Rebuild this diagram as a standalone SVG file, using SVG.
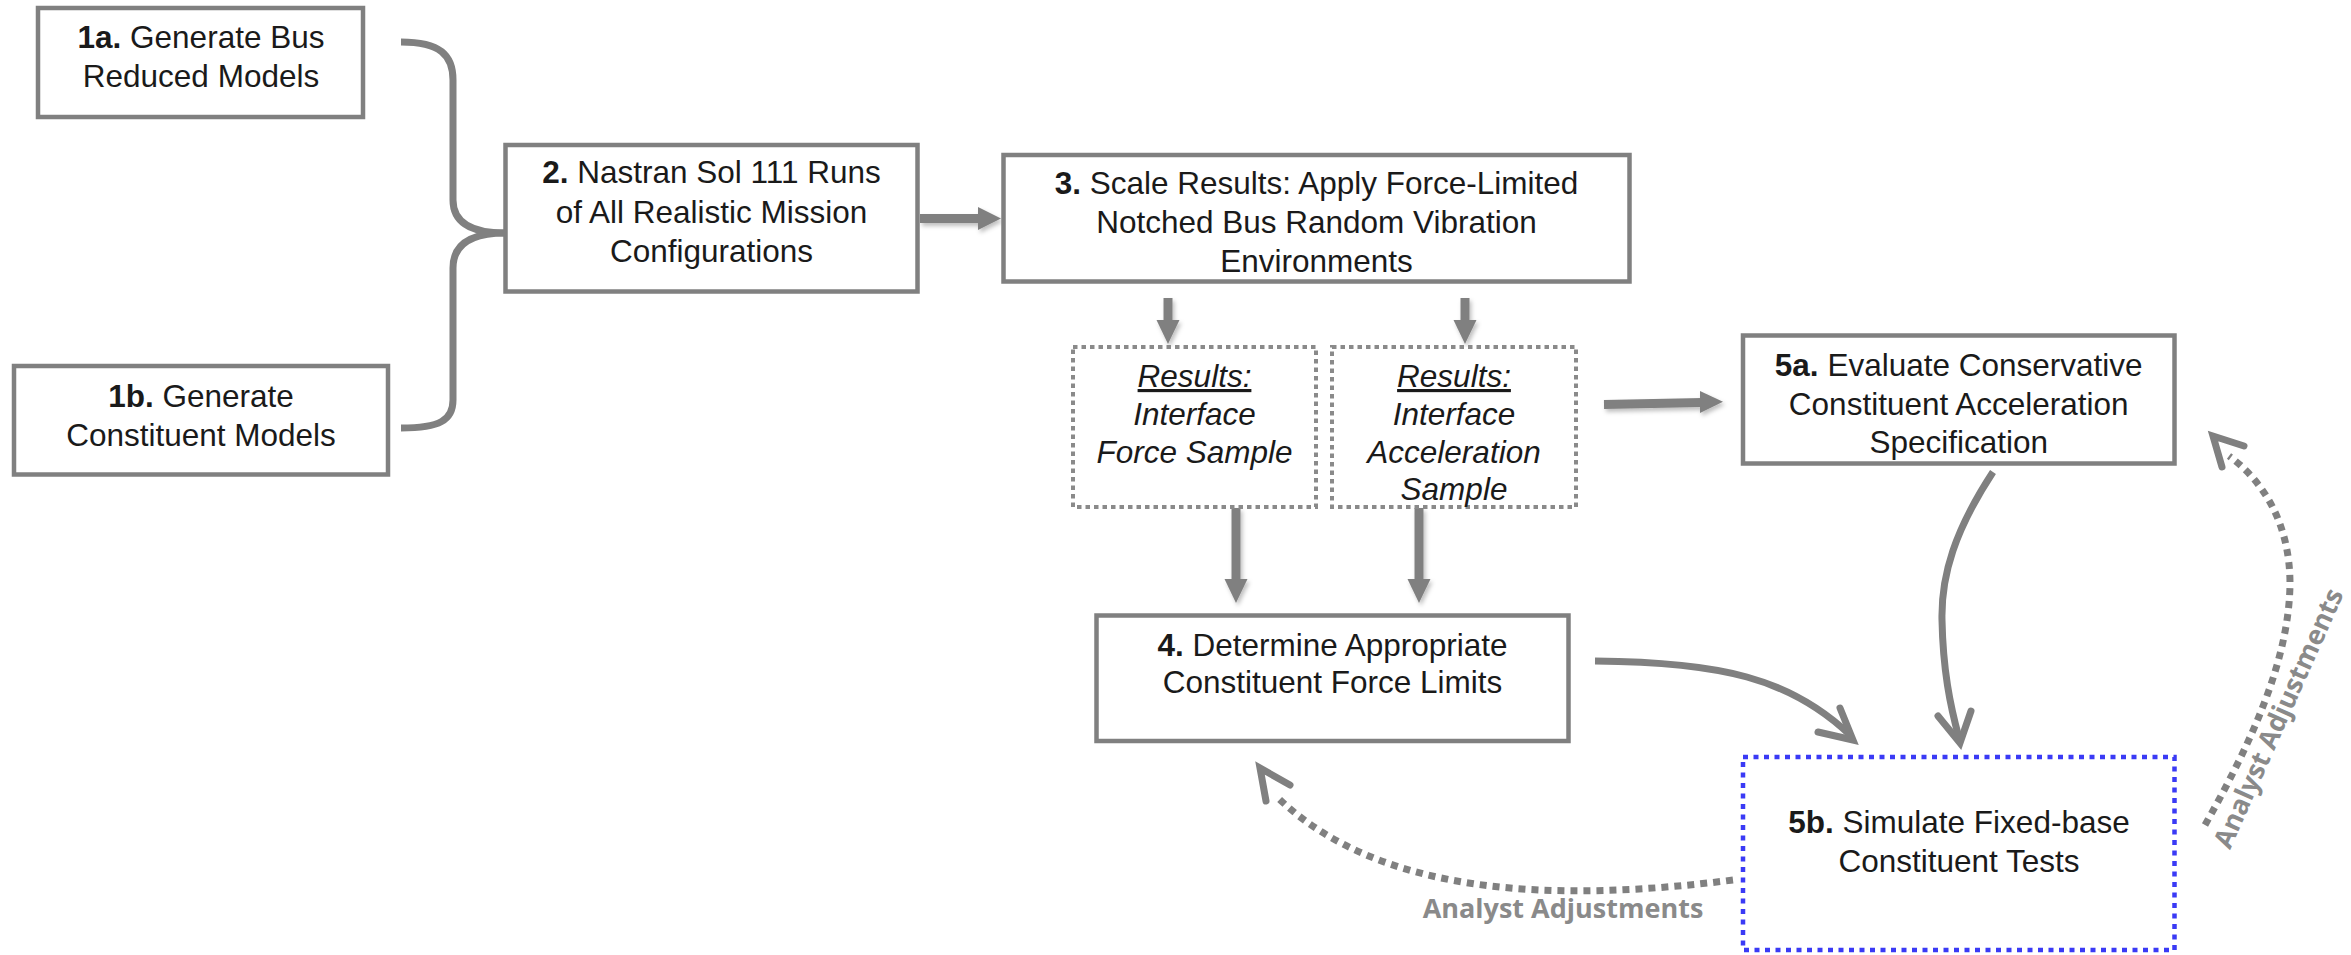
<svg xmlns="http://www.w3.org/2000/svg" width="2351" height="955" viewBox="0 0 2351 955">
<style>
  .box { fill: #ffffff; stroke: #808080; stroke-width: 4.5; }
  .dbox { fill: #ffffff; stroke: #8a8a8a; stroke-width: 4; stroke-dasharray: 4.5 4; }
  .bbox { fill: #ffffff; stroke: #3a3af5; stroke-width: 4.5; stroke-dasharray: 5 5.5; }
  .t { font-family: "Liberation Sans", Arial, sans-serif; font-size: 31.5px; fill: #1a1a1a; text-anchor: middle; }
  .ti { font-style: italic; }
  .b { font-weight: bold; }
  .shaft { stroke: #808080; stroke-width: 9; fill: none; }
  .head { fill: #808080; }
  .curve { stroke: #808080; stroke-width: 7; fill: none; stroke-linecap: butt; }
  .chev { stroke: #808080; stroke-width: 7; fill: none; stroke-linecap: round; stroke-linejoin: miter; }
  .dots { stroke: #808080; stroke-width: 7; fill: none; stroke-dasharray: 7 6; }
  .lbl { font-family: "Open Sans", "Liberation Sans", sans-serif; font-weight: bold; font-size: 27px; fill: #8a8a8a; text-anchor: middle; }
</style>
<defs>
  <filter id="sh" x="-30%" y="-30%" width="160%" height="160%">
    <feDropShadow dx="2" dy="3" stdDeviation="2" flood-color="#000" flood-opacity="0.25"/>
  </filter>
</defs>
<rect width="2351" height="955" fill="#ffffff"/>

<g id="connectors">
  <!-- brace from 1a and 1b into 2 -->
  <path class="curve" d="M401,42 C440,42 453,55 453,80 L453,200 C453,222 470,233 505,233"/>
  <path class="curve" d="M505,233 C470,233 453,245 453,268 L453,400 C453,420 440,428 401,428"/>
  <g filter="url(#sh)">
    <!-- 2 -> 3 -->
    <line class="shaft" x1="920" y1="218.5" x2="980" y2="218.5"/>
    <polygon class="head" points="978,207 1001,218.5 978,230"/>
    <!-- 3 -> results -->
    <line class="shaft" x1="1168" y1="298" x2="1168" y2="322"/>
    <polygon class="head" points="1156.5,320 1168,344 1179.5,320"/>
    <line class="shaft" x1="1465" y1="298" x2="1465" y2="322"/>
    <polygon class="head" points="1453.5,320 1465,344 1476.5,320"/>
    <!-- results -> 4 -->
    <line class="shaft" x1="1236" y1="508" x2="1236" y2="581"/>
    <polygon class="head" points="1224.5,579 1236,603 1247.5,579"/>
    <line class="shaft" x1="1419" y1="508" x2="1419" y2="581"/>
    <polygon class="head" points="1407.5,579 1419,603 1430.5,579"/>
    <!-- results -> 5a -->
    <line class="shaft" x1="1604" y1="404.5" x2="1702" y2="402.5"/>
    <polygon class="head" points="1700,391 1723,401.7 1700,413"/>
  </g>
  <!-- 4 -> 5b -->
  <path class="curve" d="M1595,661 C1720,662 1790,678 1850,735"/>
  <polyline class="chev" points="1818,732 1853,740 1840,708"/>
  <!-- 5a -> 5b -->
  <path class="curve" d="M1993,472 C1955,530 1941,575 1942,620 C1943,670 1950,705 1959,738"/>
  <polyline class="chev" points="1938,716 1960,743 1971,711"/>
  <!-- 5b -> 4 dotted -->
  <path class="dots" d="M1733,880 C1560,902 1380,898 1276,796"/>
  <polyline class="chev" points="1290,785 1260,768 1266,801"/>
  <!-- 5b -> 5a dotted -->
  <path class="dots" d="M2205,825 C2250,745 2289,662 2290,584 C2290,522 2262,480 2229,456"/>
  <polyline class="chev" points="2244,446 2213,436 2222,467"/>
  <text class="lbl" x="1563" y="918">Analyst Adjustments</text>
  <text class="lbl" x="2287" y="722" font-size="26.5" transform="rotate(-66 2287 722)">Analyst Adjustments</text>
</g>

<g id="n1a">
  <rect class="box" x="38" y="8" width="325" height="109"/>
  <text class="t" x="201" y="48"><tspan class="b">1a.</tspan> Generate Bus</text>
  <text class="t" x="201" y="87">Reduced Models</text>
</g>
<g id="n1b">
  <rect class="box" x="14" y="366" width="374" height="108.5"/>
  <text class="t" x="201" y="407"><tspan class="b">1b.</tspan> Generate</text>
  <text class="t" x="201" y="446">Constituent Models</text>
</g>
<g id="n2">
  <rect class="box" x="505.5" y="145" width="412" height="146.5"/>
  <text class="t" x="711.5" y="183"><tspan class="b">2.</tspan> Nastran Sol 111 Runs</text>
  <text class="t" x="711.5" y="223">of All Realistic Mission</text>
  <text class="t" x="711.5" y="262">Configurations</text>
</g>
<g id="n3">
  <rect class="box" x="1003.5" y="155" width="626" height="126.5"/>
  <text class="t" x="1316.5" y="194"><tspan class="b">3.</tspan> Scale Results: Apply Force-Limited</text>
  <text class="t" x="1316.5" y="233">Notched Bus Random Vibration</text>
  <text class="t" x="1316.5" y="272">Environments</text>
</g>
<g id="nForce">
  <rect class="dbox" x="1073" y="347" width="243" height="160"/>
  <text class="t ti" x="1194.5" y="387" text-decoration="underline">Results:</text>
  <text class="t ti" x="1194.5" y="425">Interface</text>
  <text class="t ti" x="1194.5" y="463">Force Sample</text>
</g>
<g id="nAccel">
  <rect class="dbox" x="1332" y="347" width="244" height="160"/>
  <text class="t ti" x="1454" y="387" text-decoration="underline">Results:</text>
  <text class="t ti" x="1454" y="425">Interface</text>
  <text class="t ti" x="1454" y="463">Acceleration</text>
  <text class="t ti" x="1454" y="500">Sample</text>
</g>
<g id="n4">
  <rect class="box" x="1096.5" y="615.5" width="472" height="125.5"/>
  <text class="t" x="1332.5" y="656"><tspan class="b">4.</tspan> Determine Appropriate</text>
  <text class="t" x="1332.5" y="693">Constituent Force Limits</text>
</g>
<g id="n5a">
  <rect class="box" x="1743" y="335.5" width="431.5" height="128"/>
  <text class="t" x="1958.7" y="376"><tspan class="b">5a.</tspan> Evaluate Conservative</text>
  <text class="t" x="1958.7" y="415">Constituent Acceleration</text>
  <text class="t" x="1958.7" y="453">Specification</text>
</g>
<g id="n5b">
  <rect class="bbox" x="1743" y="757" width="431.5" height="193"/>
  <text class="t" x="1959" y="833"><tspan class="b">5b.</tspan> Simulate Fixed-base</text>
  <text class="t" x="1959" y="872">Constituent Tests</text>
</g>
</svg>
